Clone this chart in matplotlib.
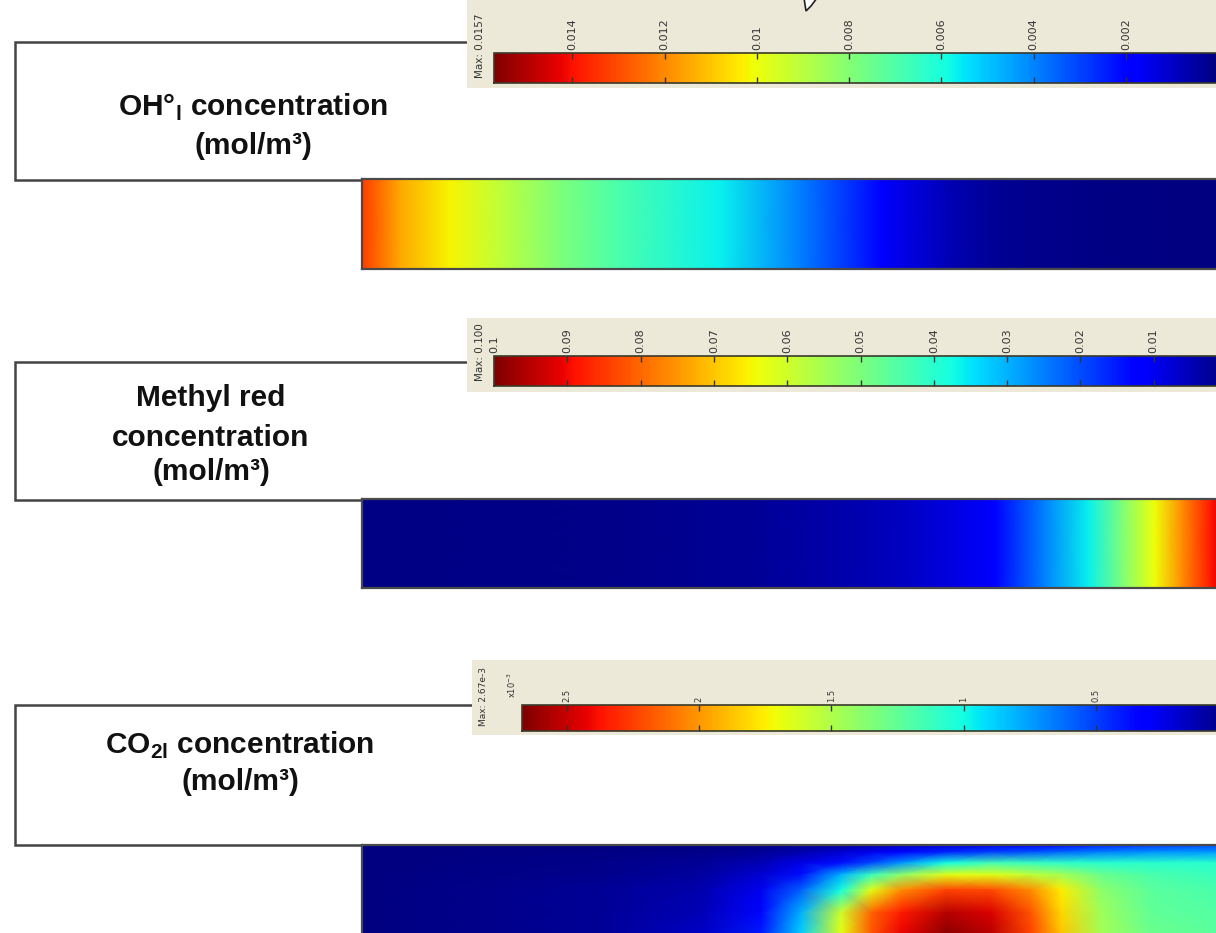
import numpy as np
import matplotlib
matplotlib.use("Agg")
import matplotlib.pyplot as plt
from matplotlib.patches import Rectangle, Polygon
from matplotlib.colors import Normalize
from matplotlib.cm import ScalarMappable

W, H = 1216, 933

# OH- concentration along the channel (fraction of visible length, mol/m3)
oh_z = [0.0, 0.044, 0.103, 0.162, 0.232, 0.302, 0.419, 0.513, 0.607, 0.689, 0.747, 0.864, 1.0]
oh_conc = [0.0133, 0.0115, 0.0102, 0.0091, 0.0079, 0.0069, 0.0057, 0.0039, 0.0019, 0.0007, 0.0003, 0.0001, 0.0]
oh_max = 0.0157
oh_ticks = [0.014, 0.012, 0.01, 0.008, 0.006, 0.004, 0.002]
oh_ticklabels = ["0.014", "0.012", "0.01", "0.008", "0.006", "0.004", "0.002"]

# methyl red concentration (mol/m3)
mr_z = [0.0, 0.279, 0.454, 0.571, 0.637, 0.700, 0.740, 0.797, 0.849, 0.888, 0.926, 0.958, 0.991, 1.0]
mr_conc = [0.0005, 0.001, 0.002, 0.004, 0.006, 0.009, 0.012, 0.025, 0.036, 0.050, 0.064, 0.076, 0.088, 0.091]
mr_max = 0.100
mr_ticks = [0.1, 0.09, 0.08, 0.07, 0.06, 0.05, 0.04, 0.03, 0.02, 0.01]
mr_ticklabels = ["0.1", "0.09", "0.08", "0.07", "0.06", "0.05", "0.04", "0.03", "0.02", "0.01"]

# CO2 concentration field (x1e-3 mol/m3), rows from top wall down to bottom edge
co2_z = [0.0, 0.279, 0.396, 0.466, 0.513, 0.560, 0.595, 0.630, 0.683, 0.735, 0.782, 0.817, 0.864, 0.923, 1.0]
co2_r = [0.0, 0.08, 0.2, 0.33, 0.5, 0.75, 1.0]
co2_conc = [
    [0.0, 0.0, 0.013, 0.027, 0.053, 0.08, 0.11, 0.16, 0.21, 0.27, 0.32, 0.37, 0.43, 0.48, 0.53],
    [0.0, 0.013, 0.027, 0.053, 0.11, 0.19, 0.27, 0.35, 0.43, 0.51, 0.56, 0.61, 0.67, 0.72, 0.75],
    [0.0, 0.027, 0.053, 0.13, 0.24, 0.37, 0.53, 0.72, 1.01, 1.15, 1.12, 1.09, 1.07, 1.07, 1.07],
    [0.0, 0.04, 0.08, 0.19, 0.37, 0.80, 1.12, 1.39, 1.66, 1.66, 1.55, 1.47, 1.28, 1.17, 1.12],
    [0.0, 0.053, 0.11, 0.27, 0.59, 1.01, 1.66, 2.03, 2.24, 2.22, 2.03, 1.76, 1.39, 1.23, 1.17],
    [0.0, 0.053, 0.13, 0.35, 0.80, 1.60, 2.14, 2.35, 2.54, 2.46, 2.19, 1.82, 1.44, 1.25, 1.20],
    [0.0, 0.053, 0.16, 0.40, 0.88, 1.68, 2.19, 2.43, 2.64, 2.54, 2.24, 1.87, 1.47, 1.28, 1.23],
]
co2_max = 2.67
co2_ticks = [2.5, 2, 1.5, 1, 0.5]
co2_ticklabels = ["2.5", "2", "1.5", "1", "0.5"]


def px_rect(x0, y0, x1, y1):
    # pixel box (top-left origin) -> figure fraction
    return [x0 / W, 1 - y1 / H, (x1 - x0) / W, (y1 - y0) / H]


fig = plt.figure(figsize=(W / 100, H / 100), dpi=100)
fig.patch.set_facecolor("white")

bg = fig.add_axes([0, 0, 1, 1])
bg.set_xlim(0, W)
bg.set_ylim(H, 0)
bg.axis("off")

title_font = dict(family="Liberation Sans", weight="bold", fontsize=21.5, color="#111111",
                  ha="center", va="center")


def draw_field(rect, z, r, c, vmax):
    ax = fig.add_axes(px_rect(*rect))
    Z, R = np.meshgrid(z, r)
    ax.pcolormesh(Z, R, np.array(c), cmap="jet", vmin=0, vmax=vmax, shading="gouraud")
    ax.set_xlim(0, 1)
    ax.set_ylim(1, 0)
    ax.set_xticks([])
    ax.set_yticks([])
    for s in ax.spines.values():
        s.set_color("#4a4a4a")
        s.set_linewidth(1.6)
    return ax


def draw_colorbar(rect, vmax, ticks, labels, fs):
    cax = fig.add_axes(px_rect(*rect))
    sm = ScalarMappable(norm=Normalize(0, vmax), cmap="jet")
    cb = fig.colorbar(sm, cax=cax, orientation="horizontal")
    cax.invert_xaxis()
    cb.set_ticks(ticks)
    cb.set_ticklabels(labels)
    cax.tick_params(axis="x", top=True, bottom=True, labeltop=True, labelbottom=False,
                    direction="in", length=4, width=1, colors="#333333",
                    labelrotation=90, labelsize=fs, pad=2)
    cb.outline.set_edgecolor("#3a3a2a")
    cb.outline.set_linewidth(1.2)
    return cb


# ---- panel 1: OH- ----
bg.add_patch(Rectangle((15, 42), 1300, 138, fc="white", ec="#444444", lw=1.8, zorder=1))
bg.add_patch(Rectangle((467, -5), 800, 93, fc="#ECE9D8", ec="none", zorder=2))
bg.text(253, 107, r"OH°$_\mathregular{l}$ concentration", **title_font)
bg.text(253, 146, "(mol/m³)", **title_font)
bg.text(480, 46, "Max: 0.0157", rotation=90, fontsize=7.5, color="#333333",
        ha="center", va="center", zorder=3)
draw_field((362, 179, 1218, 269), oh_z, [0, 1], [oh_conc, oh_conc], oh_max)
draw_colorbar((494, 53, 1218, 83), oh_max, oh_ticks, oh_ticklabels, 8)

# ---- panel 2: methyl red ----
bg.add_patch(Rectangle((15, 362), 1300, 138, fc="white", ec="#444444", lw=1.8, zorder=1))
bg.add_patch(Rectangle((467, 318), 800, 74, fc="#ECE9D8", ec="none", zorder=2))
bg.text(211, 398, "Methyl red", **title_font)
bg.text(211, 438, "concentration", **title_font)
bg.text(211, 472, "(mol/m³)", **title_font)
bg.text(480, 352, "Max: 0.100", rotation=90, fontsize=7.5, color="#333333",
        ha="center", va="center", zorder=3)
draw_field((362, 499, 1218, 588), mr_z, [0, 1], [mr_conc, mr_conc], mr_max)
draw_colorbar((494, 356, 1227, 386), mr_max, mr_ticks, mr_ticklabels, 8)

# ---- panel 3: CO2 ----
bg.add_patch(Rectangle((15, 705), 1300, 140, fc="white", ec="#444444", lw=1.8, zorder=1))
bg.add_patch(Rectangle((472, 660), 800, 75, fc="#ECE9D8", ec="none", zorder=2))
bg.text(240, 745, r"CO$_\mathregular{2l}$ concentration", **title_font)
bg.text(240, 782, "(mol/m³)", **title_font)
bg.text(484, 697, "Max: 2.67e-3", rotation=90, fontsize=6.5, color="#333333",
        ha="center", va="center", zorder=3)
bg.text(512, 685, r"x10$^{-3}$", rotation=90, fontsize=6, color="#333333",
        ha="center", va="center", zorder=3)
draw_field((362, 845, 1218, 935), co2_z, co2_r, co2_conc, co2_max)
draw_colorbar((522, 705, 1228, 731), co2_max, co2_ticks, co2_ticklabels, 6)

# mouse pointer remnant at the top
bg.add_patch(Polygon([(804, -2), (806, 11), (811, 6), (817, -2)], closed=True,
                     fc="white", ec="#222222", lw=1.2, zorder=4))

fig.savefig("out.png", dpi=100)
